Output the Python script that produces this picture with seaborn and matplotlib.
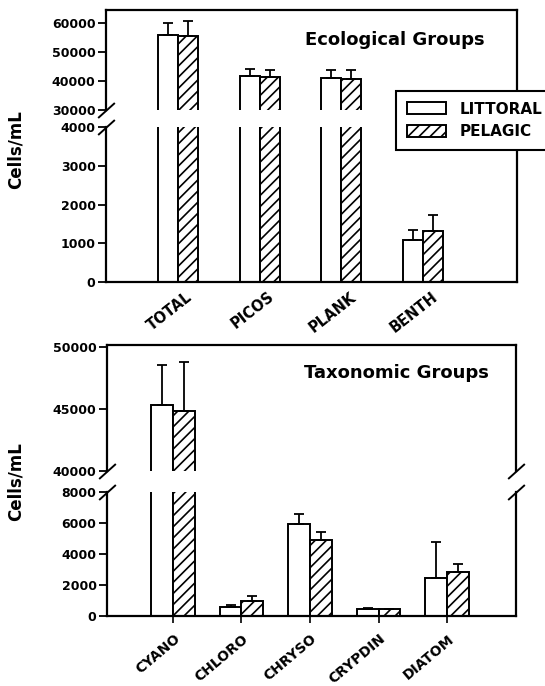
import numpy as np
import pandas as pd
import matplotlib
matplotlib.use('Agg')
import matplotlib.pyplot as plt
import seaborn as sns
from matplotlib.patches import Patch
from matplotlib.transforms import ScaledTranslation

# Data (cells/mL, bar height and upper error)
sites = ['LITTORAL', 'PELAGIC']

eco_groups = ['TOTAL', 'PICOS', 'PLANK', 'BENTH']
eco_littoral = [55800, 41700, 41000, 1080]
eco_littoral_err = [4100, 2400, 2800, 260]
eco_pelagic = [55600, 41300, 40700, 1310]
eco_pelagic_err = [5000, 2500, 3100, 420]

tax_groups = ['CYANO', 'CHLORO', 'CHRYSO', 'CRYPDIN', 'DIATOM']
tax_littoral = [45300, 580, 5950, 450, 2450]
tax_littoral_err = [3200, 100, 650, 60, 2300]
tax_pelagic = [44850, 970, 4900, 420, 2840]
tax_pelagic_err = [3950, 320, 520, 60, 500]

sns.set_style('ticks')
plt.rcParams['font.family'] = ['DejaVu Sans']
plt.rcParams['font.weight'] = 'bold'
plt.rcParams['hatch.linewidth'] = 1.2
for k in ['text.color', 'axes.labelcolor', 'xtick.color', 'ytick.color',
          'axes.edgecolor']:
    plt.rcParams[k] = 'black'

W, H = 545, 686
fig = plt.figure(figsize=(W / 100, H / 100), dpi=100)


def box(l, t, r, b):
    return [l / W, 1 - b / H, (r - l) / W, (b - t) / H]


def make_df(groups, lit, lit_err, pel, pel_err):
    return pd.DataFrame({
        'group': groups * 2,
        'site': ['LITTORAL'] * len(groups) + ['PELAGIC'] * len(groups),
        'cells': lit + pel,
        'err': lit_err + pel_err,
    })


def draw_bars(ax, df, groups, width):
    sns.barplot(data=df, x='group', y='cells', hue='site', order=groups,
                hue_order=sites, palette=['white', 'white'], saturation=1,
                edgecolor='black', linewidth=1.4, width=width,
                errorbar=None, legend=False, ax=ax, zorder=2)
    for cont, site in zip(ax.containers, sites):
        sub = df[df.site == site].set_index('group').loc[groups]
        xs = [b.get_x() + b.get_width() / 2 for b in cont]
        ys = [b.get_height() for b in cont]
        errs = sub['err'].to_numpy()
        ax.errorbar(xs, ys, yerr=[np.zeros_like(errs), errs], fmt='none',
                    ecolor='black', elinewidth=1.3, capsize=3.5,
                    capthick=1.3, zorder=3)
        if site == 'PELAGIC':
            for b in cont:
                b.set_hatch('///')


def setup(ax, ylim, yticks, xlim, upper):
    ax.set_xlim(xlim)
    ax.set_ylim(ylim)
    ax.set_yticks(yticks)
    ax.set_yticklabels([str(v) for v in yticks])
    ax.set_xlabel('')
    ax.set_ylabel('')
    for s in ax.spines.values():
        s.set_linewidth(1.6)
        s.set_color('black')
    ax.tick_params(axis='y', length=6, width=1.3, pad=1.5, labelsize=9,
                   colors='black')
    if upper:
        ax.spines['bottom'].set_visible(False)
        ax.tick_params(axis='x', bottom=False, labelbottom=False)
    else:
        ax.spines['top'].set_visible(False)
        ax.set_xticklabels([])


def break_mark(ax, x, y):
    ax.plot([x], [y], marker=[(-1, -0.9), (1, 0.9)], markersize=12,
            mew=1.4, color='black', linestyle='none',
            transform=ax.transAxes, clip_on=False, zorder=5)


def group_labels(ax, groups, dx, dy, rot, size):
    off = ScaledTranslation(dx / 100, dy / 100, fig.dpi_scale_trans)
    for i, g in enumerate(groups):
        ax.text(i, 0, g, transform=ax.get_xaxis_transform() + off,
                rotation=rot, ha='right', va='center',
                rotation_mode='anchor', fontsize=size)


# ---- Ecological groups ----
eco_df = make_df(eco_groups, eco_littoral, eco_littoral_err,
                 eco_pelagic, eco_pelagic_err)
eco_xlim = (-0.878, 4.146)
ax1 = fig.add_axes(box(106, 10, 517, 110))
ax2 = fig.add_axes(box(106, 127, 517, 282))
draw_bars(ax1, eco_df, eco_groups, 0.49)
draw_bars(ax2, eco_df, eco_groups, 0.49)
setup(ax1, (30000, 64500), [30000, 40000, 50000, 60000], eco_xlim, True)
setup(ax2, (0, 4000), [0, 1000, 2000, 3000, 4000], eco_xlim, False)
ax2.tick_params(axis='x', length=0)
break_mark(ax1, 0, 0)
break_mark(ax2, 0, 1)
group_labels(ax2, eco_groups, 13, -13, 38, 10.5)

# ---- Taxonomic groups ----
tax_df = make_df(tax_groups, tax_littoral, tax_littoral_err,
                 tax_pelagic, tax_pelagic_err)
tax_xlim = (-0.963, 5.007)
ax3 = fig.add_axes(box(107, 345, 516, 471))
ax4 = fig.add_axes(box(107, 492, 516, 616))
draw_bars(ax3, tax_df, tax_groups, 0.64)
draw_bars(ax4, tax_df, tax_groups, 0.64)
setup(ax3, (40000, 50150), [40000, 45000, 50000], tax_xlim, True)
setup(ax4, (0, 8000), [0, 2000, 4000, 6000, 8000], tax_xlim, False)
ax4.tick_params(axis='x', direction='inout', length=10, width=1.2)
for ax, y in [(ax3, 0), (ax4, 1)]:
    break_mark(ax, 0, y)
    break_mark(ax, 1, y)
group_labels(ax4, tax_groups, 5, -21, 40, 10)

# ---- titles, axis labels, legend ----
fig.text(395 / W, 1 - 40 / H, 'Ecological Groups', ha='center', va='center',
         fontsize=13)
fig.text(396 / W, 1 - 373 / H, 'Taxonomic Groups', ha='center', va='center',
         fontsize=13)
fig.text(16 / W, 1 - 150 / H, 'Cells/mL', rotation=90, ha='center',
         va='center', fontsize=12)
fig.text(16 / W, 1 - 482 / H, 'Cells/mL', rotation=90, ha='center',
         va='center', fontsize=12)

handles = [Patch(facecolor='white', edgecolor='black', linewidth=1.4),
           Patch(facecolor='white', edgecolor='black', linewidth=1.4,
                 hatch='///')]
leg = fig.legend(handles, sites, loc='upper left',
                 bbox_to_anchor=(396 / W, 1 - 91 / H), frameon=True,
                 fancybox=False, framealpha=1, edgecolor='black',
                 fontsize=11, borderpad=0.7, handlelength=2.6,
                 handleheight=0.85, handletextpad=0.85, labelspacing=0.5,
                 borderaxespad=0)
leg.get_frame().set_linewidth(1.5)

fig.savefig('out.png', dpi=100)
